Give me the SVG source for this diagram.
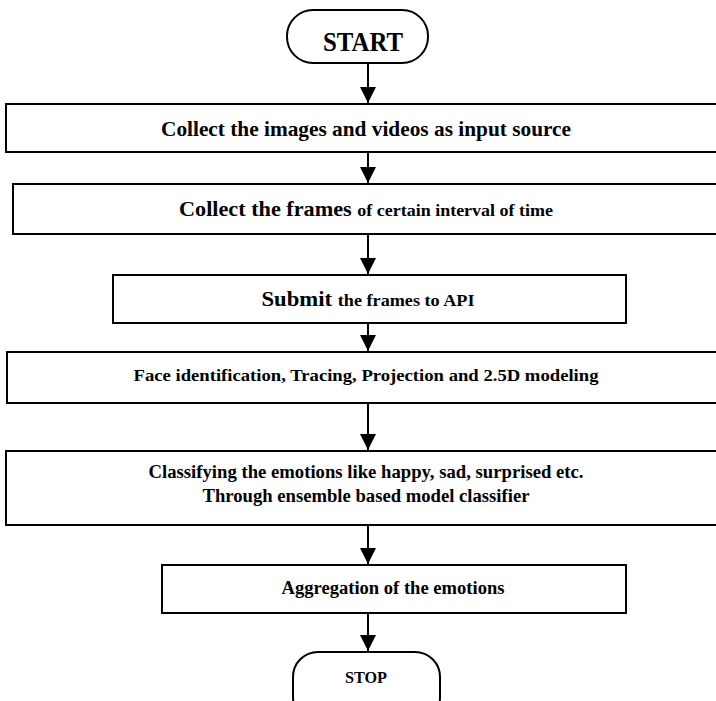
<svg xmlns="http://www.w3.org/2000/svg" width="716" height="701" viewBox="0 0 716 701">
<style>
.box{fill:#fff;stroke:#000;stroke-width:2}
.t{font-family:"Liberation Serif","Times New Roman",serif;font-weight:bold;fill:#000;text-anchor:middle}
.c{stroke:#000;stroke-width:2;fill:none}
</style>
<defs>
<marker id="ah" markerUnits="userSpaceOnUse" markerWidth="16" markerHeight="16" viewBox="0 0 16 16" refX="16" refY="8" orient="auto">
<path d="M0,0 L16,8 L0,16 Z" fill="#000"/>
</marker>
</defs>
<rect width="716" height="701" fill="#fff"/>
<g id="connectors">
<line class="c" x1="368" y1="63" x2="368" y2="103" marker-end="url(#ah)"/>
<line class="c" x1="368" y1="152" x2="368" y2="183" marker-end="url(#ah)"/>
<line class="c" x1="368" y1="234" x2="368" y2="274" marker-end="url(#ah)"/>
<line class="c" x1="368" y1="323" x2="368" y2="351" marker-end="url(#ah)"/>
<line class="c" x1="368" y1="403" x2="368" y2="450" marker-end="url(#ah)"/>
<line class="c" x1="368" y1="525" x2="368" y2="564" marker-end="url(#ah)"/>
<line class="c" x1="368" y1="613" x2="368" y2="651" marker-end="url(#ah)"/>
</g>
<g id="start">
<rect class="box" x="287" y="10" width="141" height="53" rx="26" ry="26"/>
<text class="t" x="363" y="51" font-size="27" textLength="80" lengthAdjust="spacingAndGlyphs">START</text>
</g>
<g id="collect-input">
<rect class="box" x="6" y="104" width="720" height="48"/>
<text class="t" x="366" y="136" font-size="21" textLength="410" lengthAdjust="spacingAndGlyphs">Collect the images and videos as input source</text>
</g>
<g id="collect-frames">
<rect class="box" x="13" y="184" width="713" height="50"/>
<text class="t" x="366" y="216" font-size="21" textLength="374" lengthAdjust="spacingAndGlyphs">Collect the frames <tspan font-size="17">of certain interval of time</tspan></text>
</g>
<g id="submit">
<rect class="box" x="113" y="275" width="513" height="48"/>
<text class="t" x="368" y="306" font-size="20" textLength="213" lengthAdjust="spacingAndGlyphs">Submit <tspan font-size="16">the frames to API</tspan></text>
</g>
<g id="face">
<rect class="box" x="7" y="352" width="719" height="51"/>
<text class="t" x="366" y="381" font-size="17" textLength="465" lengthAdjust="spacingAndGlyphs">Face identification, Tracing, Projection and 2.5D modeling</text>
</g>
<g id="classify">
<rect class="box" x="6" y="451" width="720" height="74"/>
<text class="t" x="366" y="478" font-size="18" textLength="435" lengthAdjust="spacingAndGlyphs">Classifying the emotions like happy, sad, surprised etc.</text>
<text class="t" x="366" y="502" font-size="18" textLength="327" lengthAdjust="spacingAndGlyphs">Through ensemble based model classifier</text>
</g>
<g id="aggregate">
<rect class="box" x="162" y="565" width="464" height="48"/>
<text class="t" x="393" y="594" font-size="18" textLength="223" lengthAdjust="spacingAndGlyphs">Aggregation of the emotions</text>
</g>
<g id="stop">
<rect class="box" x="293" y="652" width="147" height="70" rx="25" ry="25"/>
<text class="t" x="366" y="683" font-size="16" textLength="42" lengthAdjust="spacingAndGlyphs">STOP</text>
</g>
</svg>
